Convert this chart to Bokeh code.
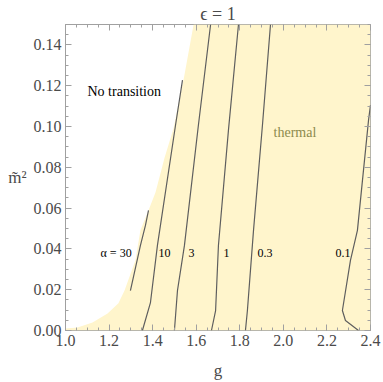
from bokeh.plotting import figure
from bokeh.models import FixedTicker, LinearAxis, Label, ColumnDataSource
from bokeh.core.properties import value
from bokeh.embed import file_html
from bokeh.resources import INLINE

# ---- data ----
G_MIN, G_MAX = 1.0, 2.4
M2_MIN, M2_MAX = 0.0, 0.15

# left edge of the region where a transition exists (thermal region)
boundary_g = [1.0, 1.055, 1.124, 1.193, 1.243, 1.271, 1.321, 1.344, 1.383, 1.413, 1.454, 1.496, 1.546, 1.588]
boundary_m2 = [0.001, 0.0015, 0.0039, 0.0083, 0.0133, 0.0196, 0.0344, 0.0491, 0.0594, 0.0677, 0.0844, 0.0992, 0.1252, 0.15]

# contours of alpha
a30_g = [1.298, 1.344, 1.367, 1.381]
a30_m2 = [0.0196, 0.0417, 0.0515, 0.0589]
a10_g = [1.353, 1.390, 1.422, 1.505, 1.537]
a10_m2 = [0.0, 0.0137, 0.0417, 0.1006, 0.1227]
a3_g = [1.500, 1.514, 1.546, 1.610, 1.666]
a3_m2 = [0.0, 0.0196, 0.0417, 0.1006, 0.15]
a1_g = [1.670, 1.689, 1.702, 1.748, 1.794]
a1_m2 = [0.0, 0.0098, 0.0417, 0.0982, 0.15]
a03_g = [1.826, 1.835, 1.863, 1.904, 1.941]
a03_m2 = [0.0, 0.0098, 0.0491, 0.1006, 0.15]
a01_g = [2.345, 2.285, 2.271, 2.308, 2.340, 2.391, 2.400]
a01_m2 = [0.0, 0.0049, 0.0098, 0.0344, 0.0491, 0.1031, 0.1105]

contour_labels = ["α = 30", "10", "3", "1", "0.3", "0.1"]
contour_label_g = [1.161, 1.427, 1.565, 1.725, 1.881, 2.239]
contour_label_m2 = [0.0378, 0.0378, 0.0378, 0.0378, 0.0378, 0.0378]

x_ticks = [1.0, 1.2, 1.4, 1.6, 1.8, 2.0, 2.2, 2.4]
x_tick_labels = ["1.0", "1.2", "1.4", "1.6", "1.8", "2.0", "2.2", "2.4"]
x_minor = [1.0 + 0.05 * i for i in range(29)]
y_ticks = [0.0, 0.02, 0.04, 0.06, 0.08, 0.10, 0.12, 0.14]
y_tick_labels = ["0.00", "0.02", "0.04", "0.06", "0.08", "0.10", "0.12", "0.14"]
y_minor = [0.005 * i for i in range(31)]

SERIF = "Liberation Serif"
FILL = "#fff5cc"
LINE = "#5e5e5e"
FRAME = "#a0a0a0"
TXT = "#4a4a4a"

p = figure(width=383, height=382, x_range=(G_MIN, G_MAX), y_range=(M2_MIN, M2_MAX),
           output_backend="svg", toolbar_location=None,
           min_border_left=65, min_border_right=13, min_border_top=24, min_border_bottom=52,
           x_axis_location=None, y_axis_location=None)
p.grid.visible = False
p.outline_line_color = FRAME
p.outline_line_width = 1
p.background_fill_color = "white"
p.border_fill_color = "white"

p.title.text = "ϵ = 1"
p.title.align = "center"
p.title.text_font = SERIF
p.title.text_font_size = "18px"
p.title.text_font_style = "normal"
p.title.text_color = TXT
p.title.standoff = 1
p.title.offset = 0

# thermal region
px = boundary_g + [G_MAX, G_MAX, G_MIN]
py = boundary_m2 + [M2_MAX, M2_MIN, M2_MIN]
p.patch(px, py, fill_color=FILL, line_color=None)

for gs, ms in [(a30_g, a30_m2), (a10_g, a10_m2), (a3_g, a3_m2), (a1_g, a1_m2), (a03_g, a03_m2), (a01_g, a01_m2)]:
    p.line(gs, ms, line_color=LINE, line_width=1.2)

src = ColumnDataSource(dict(x=contour_label_g, y=contour_label_m2, t=contour_labels))
p.text("x", "y", text="t", source=src, text_font=value(SERIF), text_font_size="12px",
       text_color="black", text_baseline="alphabetic", text_align="left")

p.add_layout(Label(x=1.101, y=0.1173, text="No transition", text_font=SERIF,
                   text_font_size="14px", text_color="black", text_baseline="alphabetic"))
p.add_layout(Label(x=1.955, y=0.0972, text="thermal", text_font=SERIF,
                   text_font_size="14px", text_color="#8c8a4c", text_baseline="alphabetic"))

# axes on all four sides, ticks pointing inward
def style(ax, labels=True):
    ax.axis_line_color = None
    ax.major_tick_line_color = FRAME
    ax.minor_tick_line_color = FRAME
    ax.major_tick_in = 6
    ax.major_tick_out = 0
    ax.minor_tick_in = 3
    ax.minor_tick_out = 0
    ax.major_label_text_font = SERIF
    if labels:
        ax.major_label_text_font_size = "16px"
        ax.major_label_text_color = TXT
        ax.major_label_standoff = 4
    else:
        ax.major_label_text_font_size = "1px"
        ax.major_label_text_color = None
        ax.major_label_standoff = 0
    ax.axis_label_text_font = SERIF
    ax.axis_label_text_font_style = "normal"
    ax.axis_label_text_font_size = "17px"
    ax.axis_label_text_color = TXT

xb = LinearAxis(ticker=FixedTicker(ticks=x_ticks, minor_ticks=x_minor),
                major_label_overrides={t: s for t, s in zip(x_ticks, x_tick_labels)})
style(xb)
xb.axis_label = "g"
xb.axis_label_standoff = 12
xt = LinearAxis(ticker=FixedTicker(ticks=x_ticks, minor_ticks=x_minor))
style(xt, labels=False)
yl = LinearAxis(ticker=FixedTicker(ticks=y_ticks, minor_ticks=y_minor),
                major_label_overrides={t: s for t, s in zip(y_ticks, y_tick_labels)})
style(yl)
yl.axis_label = "m̃²"
yl.axis_label_orientation = "horizontal"
yl.axis_label_standoff = 4
yr = LinearAxis(ticker=FixedTicker(ticks=y_ticks, minor_ticks=y_minor))
style(yr, labels=False)
p.add_layout(xb, "below")
p.add_layout(xt, "above")
p.add_layout(yl, "left")
p.add_layout(yr, "right")

open("out.html", "w").write(file_html(p, INLINE))
